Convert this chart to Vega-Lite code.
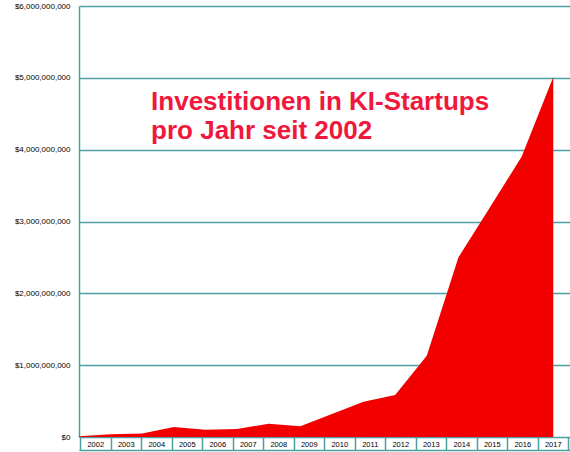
{
  "$schema": "https://vega.github.io/schema/vega-lite/v6.json",
  "width": 491,
  "height": 431,
  "autosize": {"type": "none"},
  "padding": {"left": 79, "top": 6, "right": 0, "bottom": 15},
  "background": "white",
  "config": {"view": {"stroke": null}, "font": "Liberation Sans"},
  "data": {
    "values": [
      {"year": 2002, "investment": 10000000},
      {"year": 2003, "investment": 40000000},
      {"year": 2004, "investment": 50000000},
      {"year": 2005, "investment": 140000000},
      {"year": 2006, "investment": 100000000},
      {"year": 2007, "investment": 110000000},
      {"year": 2008, "investment": 185000000},
      {"year": 2009, "investment": 150000000},
      {"year": 2010, "investment": 320000000},
      {"year": 2011, "investment": 490000000},
      {"year": 2012, "investment": 585000000},
      {"year": 2013, "investment": 1130000000},
      {"year": 2014, "investment": 2500000000},
      {"year": 2015, "investment": 3200000000},
      {"year": 2016, "investment": 3900000000},
      {"year": 2017, "investment": 5010000000}
    ]
  },
  "layer": [
    {
      "mark": {"type": "area", "color": "#f20000", "opacity": 1},
      "encoding": {
        "x": {"field": "year", "type": "quantitative", "scale": {"domain": [2002, 2017.53], "nice": false, "zero": false}, "axis": null},
        "y": {
          "field": "investment", "type": "quantitative",
          "scale": {"domain": [0, 6000000000], "nice": false},
          "axis": {
            "title": null,
            "values": [0, 1000000000, 2000000000, 3000000000, 4000000000, 5000000000, 6000000000],
            "format": "$,.0f",
            "grid": true, "gridColor": "#4d9e9e", "gridWidth": 1.5,
            "domainColor": "#4d9e9e", "domainWidth": 1.5,
            "ticks": false, "labelPadding": 9,
            "labelFont": "Liberation Sans", "labelFontSize": 8, "labelColor": "#000000"
          }
        }
      }
    },
    {
      "mark": {"type": "point", "opacity": 0},
      "encoding": {
        "x": {
          "field": "year", "type": "quantitative",
          "scale": {"domain": [2001.467, 2017.565], "nice": false, "zero": false},
          "axis": {
            "orient": "bottom", "offset": 13, "title": null, "grid": false,
            "values": [2001.5, 2002.5, 2003.5, 2004.5, 2005.5, 2006.5, 2007.5, 2008.5, 2009.5, 2010.5, 2011.5, 2012.5, 2013.5, 2014.5, 2015.5, 2016.5, 2017.5],
            "labelExpr": "datum.value > 2017 ? '' : '' + (datum.value + 0.5)",
            "labelOffset": 15.25,
            "tickSize": -13, "tickColor": "#4d9e9e", "tickWidth": 1.5,
            "domainColor": "#4d9e9e", "domainWidth": 1.5,
            "labelPadding": 7, "labelBaseline": "middle",
            "labelOverlap": false, "labelBound": false, "labelFlush": false,
            "labelFont": "Liberation Sans", "labelFontSize": 7.5, "labelColor": "#000000"
          }
        },
        "y": {"field": "investment", "type": "quantitative"}
      }
    },
    {
      "data": {"values": [{"title": "Investitionen in KI-Startups\npro Jahr seit 2002"}]},
      "mark": {
        "type": "text", "align": "left", "baseline": "alphabetic", "lineBreak": "\n",
        "font": "Liberation Sans", "fontWeight": "bold", "fontSize": 26, "lineHeight": 29,
        "color": "#f0183c"
      },
      "encoding": {
        "text": {"field": "title"},
        "x": {"datum": 2004.28, "type": "quantitative", "scale": {"domain": [2002, 2017.53], "nice": false, "zero": false}, "axis": null},
        "y": {"datum": 4552000000, "type": "quantitative"}
      }
    }
  ],
  "resolve": {"scale": {"x": "independent"}}
}
